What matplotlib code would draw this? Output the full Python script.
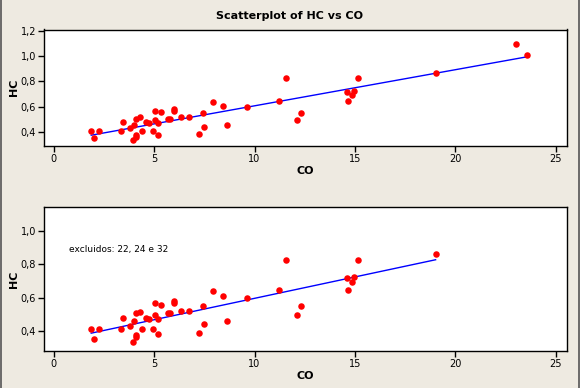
import numpy as np
import matplotlib
matplotlib.use("Agg")
import matplotlib.pyplot as plt
from matplotlib.ticker import FuncFormatter

# Data
co = [1.87, 2.02, 2.28, 3.36, 3.47, 3.80, 3.95, 4.01, 4.10, 4.12, 4.12, 4.30,
      4.39, 4.61, 4.76, 4.96, 5.02, 5.06, 5.20, 5.20, 5.35, 5.70, 5.81, 6.01,
      6.01, 6.34, 6.75, 7.24, 7.43, 7.48, 7.94, 8.42, 8.64, 9.63, 11.21, 11.56,
      12.11, 12.32, 14.60, 14.63, 14.83, 14.94, 15.15, 19.01, 23.00, 23.58]
hc = [0.412, 0.355, 0.412, 0.412, 0.480, 0.430, 0.336, 0.460, 0.508, 0.378, 0.366, 0.518,
      0.412, 0.480, 0.472, 0.412, 0.496, 0.568, 0.472, 0.382, 0.556, 0.508, 0.508, 0.580,
      0.568, 0.520, 0.520, 0.390, 0.550, 0.442, 0.640, 0.610, 0.460, 0.598, 0.646, 0.824,
      0.496, 0.550, 0.718, 0.646, 0.694, 0.726, 0.824, 0.864, 1.094, 1.010]
excluded_idx = [44, 45]  # the two highest-CO points missing from lower panel

xticks = [0, 5, 10, 15, 20, 25]
yticks_top = [0.4, 0.6, 0.8, 1.0, 1.2]
yticks_bot = [0.4, 0.6, 0.8, 1.0]
title = "Scatterplot of HC vs CO"
note = "excluidos: 22, 24 e 32"

BG = "#EEEAE1"
W, H = 580, 388
fig = plt.figure(figsize=(W / 100, H / 100), dpi=100, facecolor=BG)

def rect(l, t, r, b):
    return [l / W, 1 - b / H, (r - l) / W, (b - t) / H]

comma = FuncFormatter(lambda v, p: ("%.1f" % v).replace(".", ","))

def panel(ax, x, y, ylim, yticks):
    x = np.asarray(x); y = np.asarray(y)
    ax.set_facecolor("white")
    ax.scatter(x, y, s=22, color="#FF0000", marker="o", linewidths=0, zorder=3)
    b, a = np.polyfit(x, y, 1)
    xs = np.array([x.min(), x.max()])
    ax.plot(xs, a + b * xs, color="#0000FF", lw=1.0, zorder=2)
    ax.set_xlim(-0.46, 25.55)
    ax.set_ylim(*ylim)
    ax.set_xticks(xticks)
    ax.set_yticks(yticks)
    ax.yaxis.set_major_formatter(comma)
    ax.tick_params(labelsize=7, length=4, width=1, colors="black", pad=2)
    for s in ax.spines.values():
        s.set_linewidth(1.0)
        s.set_color("black")
    ax.set_xlabel("CO", fontsize=8, fontweight="bold", labelpad=1)
    ax.set_ylabel("HC", fontsize=8, fontweight="bold", labelpad=1)

ax1 = fig.add_axes(rect(44.4, 29.5, 567, 146))
panel(ax1, co, hc, (0.292, 1.208), yticks_top)

keep = [i for i in range(len(co)) if i not in excluded_idx]
ax2 = fig.add_axes(rect(44.4, 206.7, 567, 351))
panel(ax2, [co[i] for i in keep], [hc[i] for i in keep], (0.282, 1.146), yticks_bot)
ax2.text(0.74, 0.888, note, fontsize=6.5, ha="left", va="center")

fig.text(289 / W, 1 - 16 / H, title, fontsize=8, fontweight="bold", ha="center", va="center")

# window-like side borders
fig.add_artist(plt.Line2D([0.5 / W, 0.5 / W], [0, 1], color="#555555", lw=1.2, transform=fig.transFigure))
fig.add_artist(plt.Line2D([1 - 1.5 / W, 1 - 1.5 / W], [0, 1], color="#555555", lw=1.2, transform=fig.transFigure))

fig.savefig("out.png", dpi=100, facecolor=BG)
